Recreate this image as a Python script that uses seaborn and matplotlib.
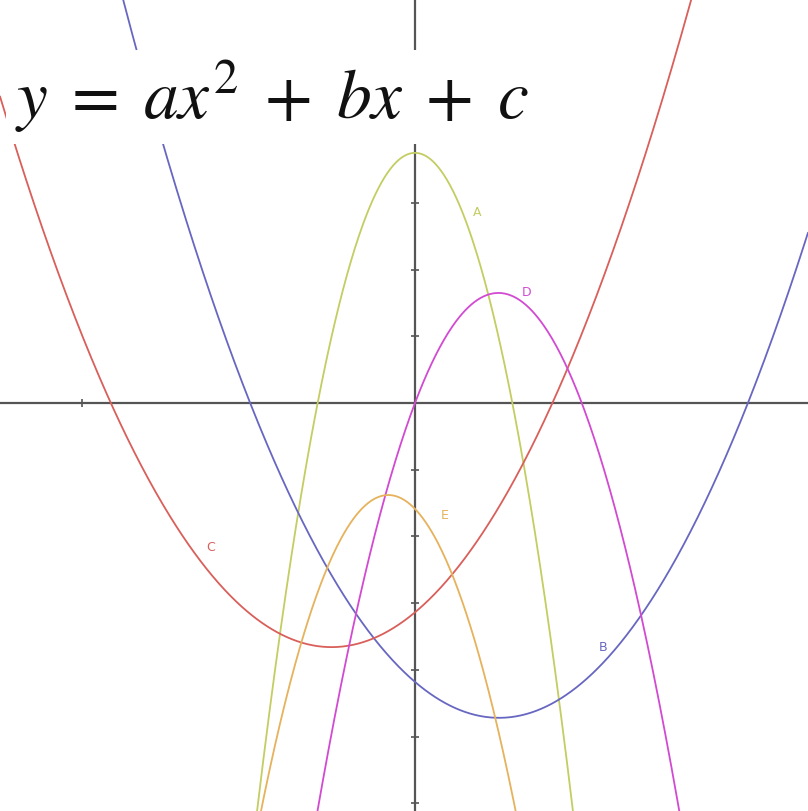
import numpy as np
import pandas as pd
import matplotlib
matplotlib.use("Agg")
import matplotlib.pyplot as plt
import seaborn as sns

# parabolas in vertex form y = a*(x-h)^2 + k (1 unit = one tick)
curve_names = ["A", "B", "C", "D", "E"]
a_vals = [-1.76, 0.339, 0.334, -1.056, -1.30]
h_vals = [0.0, 1.26, -1.25, 1.25, -0.40]
k_vals = [3.75, -4.72, -3.66, 1.65, -1.38]
colors = ["#c3cd62", "#6767c2", "#d95f5a", "#d24ad2", "#e6b25c"]

# label spots next to each curve
label_x = [0.93, 2.82, -3.07, 1.68, 0.45]
label_y = [2.85, -3.66, -2.17, 1.65, -1.68]

unit = 66.7  # pixels per unit
x_min, x_max = -415 / unit, 393 / unit
y_min, y_max = -408 / unit, 403 / unit

xs = np.linspace(x_min, x_max, 800)
rows = []
for name, a, h, k in zip(curve_names, a_vals, h_vals, k_vals):
    rows.append(pd.DataFrame({"x": xs, "y": a * (xs - h) ** 2 + k, "curve": name}))
df = pd.concat(rows, ignore_index=True)

sns.set_theme(style="white")
plt.rcParams["mathtext.fontset"] = "stix"

fig = plt.figure(figsize=(8.08, 8.11), dpi=100)
ax = fig.add_axes([0, 0, 1, 1])

# axes
ax.axhline(0, color="#555555", lw=1.6, zorder=1)
ax.axvline(0, color="#555555", lw=1.6, zorder=1)
yt = np.arange(-6, 6)
yt = yt[yt != 0]
ax.scatter(np.zeros(len(yt)), yt, marker="_", s=40, color="#555555", lw=1.2, zorder=1)
ax.scatter([-5], [0], marker="|", s=40, color="#555555", lw=1.2, zorder=1)

sns.lineplot(data=df, x="x", y="y", hue="curve", palette=dict(zip(curve_names, colors)),
             lw=1.3, legend=False, ax=ax, sort=False, estimator=None, zorder=2)

for name, lx, ly, c in zip(curve_names, label_x, label_y, colors):
    ax.text(lx, ly, name, color=c, fontsize=9, ha="center", va="center", zorder=3)

ax.set_xlim(x_min, x_max)
ax.set_ylim(y_min, y_max)
ax.set_axis_off()

fig.text(0.018, 0.853, r"$y\;=\;ax^2\;+\;bx\;+\;c$", fontsize=50, color="#111111",
         ha="left", va="baseline",
         bbox=dict(facecolor="white", edgecolor="none", pad=6), zorder=5)

fig.savefig("out.png", dpi=100, facecolor="white")
